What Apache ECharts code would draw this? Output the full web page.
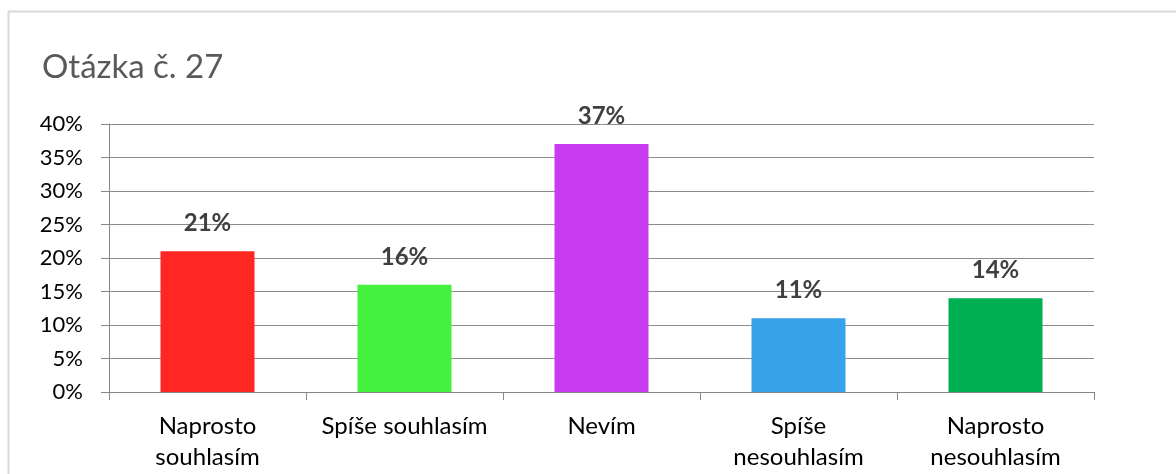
<!DOCTYPE html>
<html>
<head>
<meta charset="utf-8">
<style>
  html, body { margin: 0; padding: 0; background: #fff; }
  #chart { width: 1176px; height: 474px; }
</style>
<script src="https://cdn.jsdelivr.net/npm/echarts@6/dist/echarts.min.js"></script>
</head>
<body>
<div id="chart"></div>
<script>
// Survey answers for question 27
const categories = ['Naprosto\nsouhlasím', 'Spíše souhlasím', 'Nevím', 'Spíše\nnesouhlasím', 'Naprosto\nnesouhlasím'];
const shares = [21, 16, 37, 11, 14];
const barColors = ['#ff2724', '#46f03f', '#c93bf0', '#37a2e8', '#00b050'];
const yTicks = { min: 0, max: 40, interval: 5 };

const font = 'Lato, "Open Sans", "Noto Sans", sans-serif';

const chart = echarts.init(document.getElementById('chart'));
chart.setOption({
  animation: false,
  textStyle: { fontFamily: font },
  title: {
    text: 'Otázka č. 27',
    left: 37,
    top: 46,
    textStyle: { fontSize: 33, fontWeight: 'normal', color: '#595959', fontFamily: font }
  },
  graphic: [{
    type: 'rect',
    shape: { x: 8.5, y: 11.5, width: 1200, height: 500 },
    style: { fill: 'none', stroke: '#d9d9d9', lineWidth: 2 },
    silent: true,
    z: -1
  }],
  grid: { left: 109, right: 82, top: 124, bottom: 82 },
  xAxis: {
    type: 'category',
    data: categories,
    axisLine: { lineStyle: { color: '#868686', width: 1 } },
    axisTick: { show: true, length: 8, lineStyle: { color: '#868686' } },
    axisLabel: { color: '#000', fontSize: 24, lineHeight: 31, margin: 19, interval: 0, fontFamily: font }
  },
  yAxis: {
    type: 'value',
    min: yTicks.min,
    max: yTicks.max,
    interval: yTicks.interval,
    axisLine: { show: true, lineStyle: { color: '#868686', width: 1 } },
    axisTick: { show: true, length: 8, lineStyle: { color: '#868686' } },
    axisLabel: { color: '#000', fontSize: 22, margin: 26, formatter: v => v + '%', fontFamily: font },
    splitLine: { lineStyle: { color: '#8c8c8c', width: 1 } }
  },
  series: [{
    type: 'bar',
    data: shares.map((v, i) => ({ value: v, itemStyle: { color: barColors[i] } })),
    barWidth: 94,
    label: {
      show: true,
      position: 'top',
      distance: 16,
      formatter: p => p.value + '%',
      fontSize: 24,
      fontWeight: 'bold',
      color: '#404040',
      fontFamily: font
    }
  }]
});
</script>
</body>
</html>
